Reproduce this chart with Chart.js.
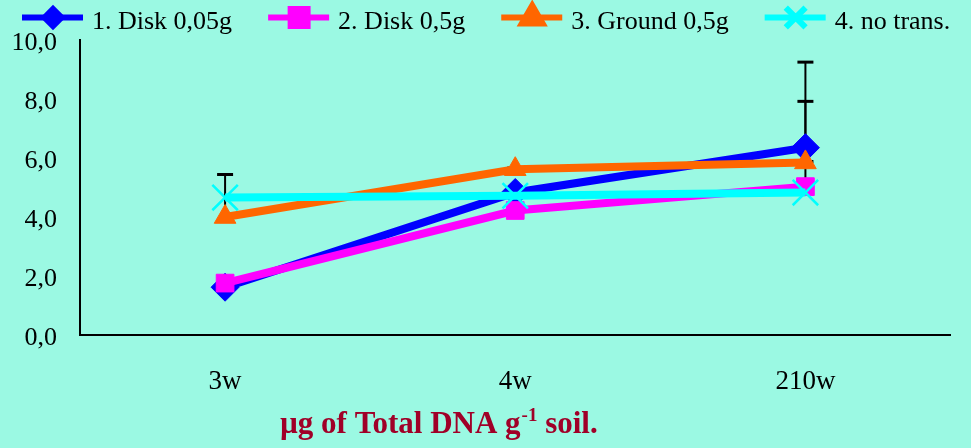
<!DOCTYPE html>
<html>
<head>
<meta charset="utf-8">
<script src="https://cdn.jsdelivr.net/npm/chart.js@4/dist/chart.umd.min.js"></script>
<style>
  html, body { margin: 0; padding: 0; background: #9BF9E3; }
  #wrap { width: 971px; height: 448px; }
</style>
</head>
<body>
<div id="wrap"><canvas id="myChart"></canvas></div>
<script>
"use strict"

// weeks on the x axis
let weeks = ["3w", "4w", "210w"];

// series names for the legend
let seriesNames = ["1. Disk 0,05g", "2. Disk 0,5g", "3. Ground 0,5g", "4. no trans."];

// values
let disk005 = [1.62, 4.83, 6.35];
let disk05 = [1.76, 4.22, 5.03];
let ground05 = [4.0, 5.62, 5.85];
let noTrans = [4.66, 4.72, 4.83];

// top of the error bars (null = none)
let disk005Err = [null, null, 9.25];
let disk05Err = [null, null, 7.92];
let ground05Err = [5.44, 5.66, 5.88];
let noTransErr = [null, null, null];

let yTicks = [0, 2, 4, 6, 8, 10];

let colors = ["#0000FF", "#FF00FF", "#FF6600", "#00FFFF"];
let styles = ["rectRot", "rect", "triangle", "crossRot"];
let radii = [14, 12.5, 12.5, 18];
let legendRadii = [8.5, 12, 12, 14];

function makeSet(i, values, err) {
    return {
        label: seriesNames[i],
        data: values,
        err: err,
        borderColor: colors[i],
        backgroundColor: colors[i],
        borderWidth: 8,
        pointStyle: styles[i],
        pointRadius: radii[i],
        pointBackgroundColor: colors[i],
        pointBorderColor: colors[i],
        pointBorderWidth: styles[i] === "crossRot" ? 2.5 : 1,
        tension: 0,
        order: 4 - i
    };
}

// error bars drawn behind the lines
const errorBars = {
    id: "errorBars",
    beforeDatasetsDraw(chart) {
        const ctx = chart.ctx;
        const x = chart.scales.x;
        const y = chart.scales.y;
        ctx.save();
        ctx.strokeStyle = "#000";
        chart.data.datasets.forEach(ds => {
            ds.data.forEach((v, i) => {
                let top = ds.err[i];
                if (top === null) return;
                let px = x.getPixelForValue(i);
                let y0 = y.getPixelForValue(v);
                let y1 = y.getPixelForValue(top);
                ctx.lineWidth = 2;
                ctx.beginPath();
                ctx.moveTo(px, y0);
                ctx.lineTo(px, y1);
                ctx.stroke();
                ctx.lineWidth = 3;
                ctx.beginPath();
                ctx.moveTo(px - 8, y1);
                ctx.lineTo(px + 8, y1);
                ctx.stroke();
            });
        });
        ctx.restore();
    }
};

// legend with line + marker, and the title with a superscript
const extras = {
    id: "extras",
    afterDraw(chart) {
        const ctx = chart.ctx;
        ctx.save();
        ctx.font = "26px 'Liberation Serif'";
        ctx.textBaseline = "alphabetic";
        ctx.fillStyle = "#000";
        let lx = 22;
        let ly = 17.5;
        seriesNames.forEach((name, i) => {
            ctx.strokeStyle = colors[i];
            ctx.lineWidth = 6;
            ctx.beginPath();
            ctx.moveTo(lx, ly);
            ctx.lineTo(lx + 61, ly);
            ctx.stroke();
            ctx.fillStyle = colors[i];
            ctx.strokeStyle = colors[i];
            Chart.helpers.drawPoint(ctx, {
                pointStyle: styles[i],
                radius: legendRadii[i],
                rotation: 0,
                borderWidth: styles[i] === "crossRot" ? 2.5 : 1
            }, lx + 31, ly);
            ctx.fillStyle = "#000";
            ctx.fillText(name, lx + 70, 29);
            lx += 70 + ctx.measureText(name).width + 36;
        });

        // axis title
        ctx.fillStyle = "#A00028";
        let tx = 280;
        let ty = 433;
        let part1 = "\u00B5g of Total DNA g";
        let part2 = "-1";
        let part3 = " soil.";
        ctx.font = "bold 31px 'Liberation Serif'";
        ctx.fillText(part1, tx, ty);
        tx += ctx.measureText(part1).width;
        ctx.font = "bold 19px 'Liberation Serif'";
        ctx.fillText(part2, tx + 1, ty - 12);
        tx += ctx.measureText(part2).width + 1;
        ctx.font = "bold 31px 'Liberation Serif'";
        ctx.fillText(part3, tx, ty);
        ctx.restore();
    }
};

const ctx = document.getElementById("myChart").getContext("2d");
const myChart = new Chart(ctx, {
    type: "line",
    data: {
        labels: weeks,
        datasets: [
            makeSet(0, disk005, disk005Err),
            makeSet(1, disk05, disk05Err),
            makeSet(2, ground05, ground05Err),
            makeSet(3, noTrans, noTransErr)
        ]
    },
    options: {
        responsive: true,
        maintainAspectRatio: false,
        animation: false,
        layout: { padding: { top: 40, right: 18, left: 0, bottom: 0 } },
        plugins: {
            legend: { display: false },
            tooltip: { enabled: false }
        },
        scales: {
            x: {
                offset: true,
                grid: { display: false },
                border: { display: true, color: "#000", width: 2 },
                ticks: {
                    color: "#000",
                    padding: 23,
                    font: { family: "'Liberation Serif'", size: 27 }
                },
                afterFit: s => { s.height = 113; }
            },
            y: {
                min: 0,
                max: 10,
                grid: { display: false },
                border: { display: true, color: "#000", width: 2 },
                afterBuildTicks: s => { s.ticks = yTicks.map(v => ({ value: v })); },
                ticks: {
                    color: "#000",
                    padding: 15,
                    labelOffset: 3,
                    font: { family: "'Liberation Serif'", size: 26 },
                    callback: v => v.toFixed(1).replace(".", ",")
                },
                afterFit: s => { s.width = 80; }
            }
        }
    },
    plugins: [errorBars, extras]
});
</script>
</body>
</html>
